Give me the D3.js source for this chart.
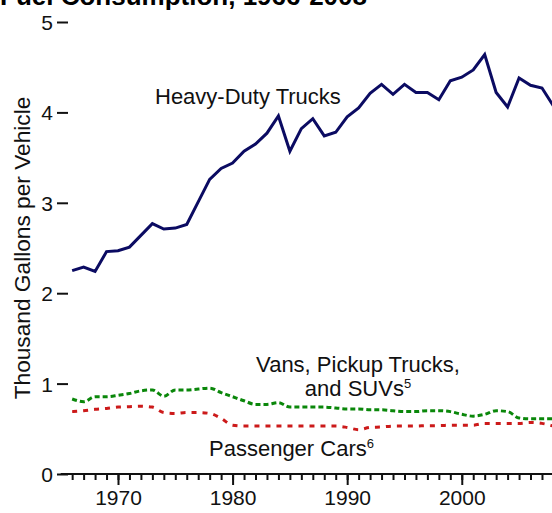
<!DOCTYPE html>
<html>
<head>
<meta charset="utf-8">
<script src="https://cdn.jsdelivr.net/npm/d3@7"></script>
<style>
  body { margin: 0; background: #fff; }
  svg { display: block; font-family: "Liberation Sans", Arial, sans-serif; }
  .label { font-size: 22px; fill: #111; }
  .tick text { font-size: 21px; fill: #111; }
</style>
</head>
<body>
<svg id="chart" width="552" height="513"></svg>
<script>
'use strict'

const years = [1966, 1967, 1968, 1969, 1970, 1971, 1972, 1973, 1974, 1975,
  1976, 1977, 1978, 1979, 1980, 1981, 1982, 1983, 1984, 1985,
  1986, 1987, 1988, 1989, 1990, 1991, 1992, 1993, 1994, 1995,
  1996, 1997, 1998, 1999, 2000, 2001, 2002, 2003, 2004, 2005,
  2006, 2007, 2008]

// thousand gallons per vehicle
const heavyTrucks = [2.25, 2.29, 2.24, 2.46, 2.47, 2.51, 2.64, 2.77, 2.71, 2.72,
  2.76, 3.01, 3.26, 3.38, 3.44, 3.57, 3.65, 3.77, 3.96, 3.57,
  3.82, 3.93, 3.74, 3.78, 3.95, 4.05, 4.21, 4.31, 4.20, 4.31,
  4.22, 4.22, 4.14, 4.35, 4.39, 4.47, 4.64, 4.22, 4.06, 4.38,
  4.30, 4.27, 4.07]
const vansPickups = [0.83, 0.80, 0.855, 0.855, 0.87, 0.89, 0.92, 0.93, 0.86, 0.93,
  0.93, 0.94, 0.95, 0.90, 0.855, 0.81, 0.77, 0.77, 0.79, 0.74,
  0.74, 0.74, 0.74, 0.73, 0.72, 0.72, 0.71, 0.71, 0.70, 0.69,
  0.69, 0.70, 0.70, 0.69, 0.66, 0.64, 0.66, 0.70, 0.69, 0.62,
  0.61, 0.61, 0.61]
const passengerCars = [0.69, 0.70, 0.715, 0.725, 0.74, 0.745, 0.75, 0.74, 0.68, 0.67,
  0.68, 0.68, 0.67, 0.615, 0.54, 0.53, 0.53, 0.53, 0.53, 0.53,
  0.53, 0.53, 0.53, 0.53, 0.515, 0.49, 0.515, 0.52, 0.53, 0.53,
  0.53, 0.535, 0.535, 0.54, 0.54, 0.54, 0.56, 0.56, 0.56, 0.56,
  0.57, 0.56, 0.53]

const yTicks = [0, 1, 2, 3, 4, 5]
const decadeTicks = [1970, 1980, 1990, 2000]

const svg = d3.select('#chart')

// scales (the right end runs past the window, like the original crop)
const x = d3.scaleLinear().domain([1965, 2009]).range([60.7, 564.9])
const y = d3.scaleLinear().domain([0, 5]).range([474, 22])

// title, mostly cut off at the top
svg.append('text')
  .attr('x', 0)
  .attr('y', 5)
  .style('font-size', '26px')
  .style('font-weight', 'bold')
  .text('Fuel Consumption, 1966-2008')

// y axis: ticks and labels only
const yAxis = svg.append('g')
  .attr('transform', 'translate(68,0)')
  .call(d3.axisLeft(y).tickValues(yTicks).tickSize(11).tickPadding(4).tickFormat(d3.format('d')))
yAxis.select('.domain').remove()
yAxis.selectAll('.tick line').attr('stroke', '#111').attr('stroke-width', 2)
yAxis.selectAll('.tick text').attr('dy', '0.36em')

svg.append('text')
  .attr('class', 'label')
  .attr('transform', 'translate(30,248) rotate(-90)')
  .attr('text-anchor', 'middle')
  .style('font-size', '22.7px')
  .text('Thousand Gallons per Vehicle')

// x axis: yearly minor ticks, longer ticks on decades
const xMinor = svg.append('g')
  .attr('transform', 'translate(0,474)')
  .call(d3.axisBottom(x).tickValues(years).tickSize(6).tickFormat(''))
xMinor.select('.domain').remove()
xMinor.selectAll('.tick line').attr('stroke', '#111').attr('stroke-width', 2)

const xMajor = svg.append('g')
  .attr('transform', 'translate(0,474)')
  .call(d3.axisBottom(x).tickValues(decadeTicks).tickSize(11).tickPadding(5).tickFormat(d3.format('d')))
xMajor.select('.domain').remove()
xMajor.selectAll('.tick line').attr('stroke', '#111').attr('stroke-width', 2)

svg.append('line')
  .attr('x1', x(1965)).attr('x2', x(2009))
  .attr('y1', 474).attr('y2', 474)
  .attr('stroke', '#111')
  .attr('stroke-width', 2)

// lines
const series = [
  { values: heavyTrucks, color: '#0b0b62', dash: null, curve: d3.curveLinear },
  { values: vansPickups, color: '#0a870a', dash: '5,3', curve: d3.curveMonotoneX },
  { values: passengerCars, color: '#cc1a1a', dash: '5,6', curve: d3.curveMonotoneX }
]

series.forEach((s) => {
  const line = d3.line()
    .x((d, i) => x(years[i]))
    .y((d) => y(d))
    .curve(s.curve)
  svg.append('path')
    .datum(s.values)
    .attr('d', line)
    .attr('fill', 'none')
    .attr('stroke', s.color)
    .attr('stroke-width', 3)
    .attr('stroke-dasharray', s.dash)
})

// series labels
svg.append('text')
  .attr('class', 'label')
  .attr('x', 155)
  .attr('y', 104)
  .text('Heavy-Duty Trucks')

const vansLabel = svg.append('text')
  .attr('class', 'label')
  .attr('text-anchor', 'middle')
vansLabel.append('tspan').attr('x', 358).attr('y', 372).text('Vans, Pickup Trucks,')
const second = vansLabel.append('tspan').attr('x', 358).attr('y', 396).text('and SUVs')
second.append('tspan').attr('dy', -8).style('font-size', '13px').text('5')

const carsLabel = svg.append('text')
  .attr('class', 'label')
  .attr('x', 209)
  .attr('y', 456)
  .text('Passenger Cars')
carsLabel.append('tspan').attr('dy', -8).style('font-size', '13px').text('6')
</script>
</body>
</html>
